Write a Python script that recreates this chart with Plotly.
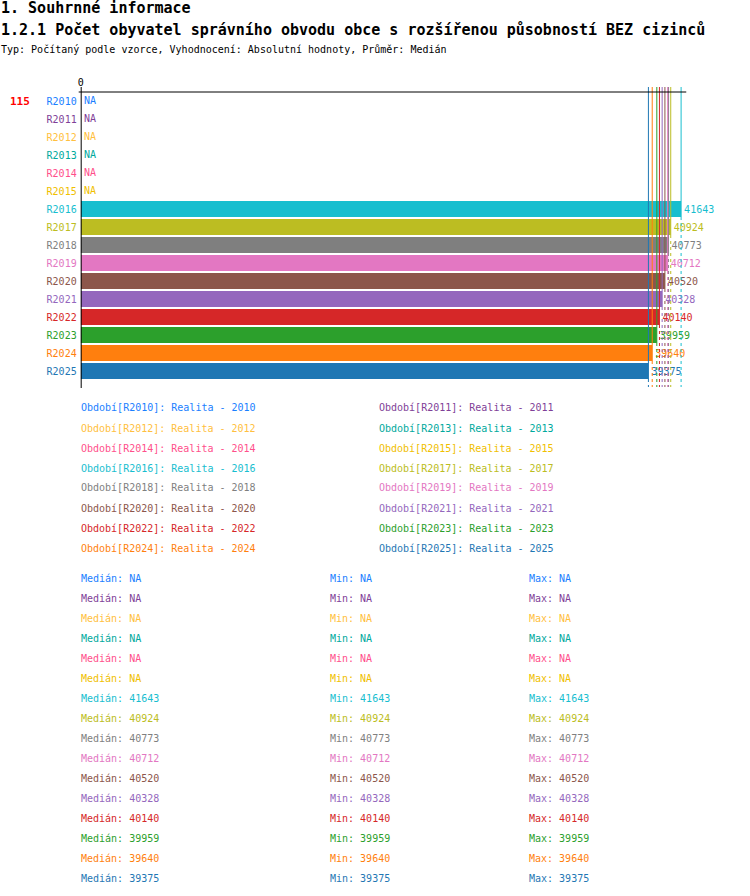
import plotly.graph_objects as go

W, H = 750, 896

periods = ["R2010", "R2011", "R2012", "R2013", "R2014", "R2015", "R2016", "R2017",
           "R2018", "R2019", "R2020", "R2021", "R2022", "R2023", "R2024", "R2025"]
values = [None, None, None, None, None, None, 41643, 40924,
          40773, 40712, 40520, 40328, 40140, 39959, 39640, 39375]
colors = ["#1a80ff", "#7f3f98", "#ffbf40", "#00a99d", "#ff4f8b", "#f0c000",
          "#17becf", "#bcbd22", "#7f7f7f", "#e377c2", "#8c564b", "#9467bd",
          "#d62728", "#2ca02c", "#ff7f0e", "#1f77b4"]
region_code = "115"
title1 = "1. Souhrnné informace"
title2 = "1.2.1 Počet obyvatel správního obvodu obce s rozšířenou působností BEZ cizinců"
subtitle = "Typ: Počítaný podle vzorce, Vyhodnocení: Absolutní hodnoty, Průměr: Medián"

MONO = "DejaVu Sans Mono"


def px(v):
    return v / W


def py(v):
    return 1 - v / H


# plot area in pixels
top, bottom = 92, 380
left, right = 78, 686
row_h = (bottom - top) / len(periods)

fig = go.Figure()

fig.add_trace(go.Bar(
    y=periods, x=values, orientation="h",
    marker=dict(color=colors, line=dict(width=0)),
    text=[("" if v is None else str(v)) for v in values],
    textposition="outside", cliponaxis=False,
    textfont=dict(family=MONO, size=10, color=colors),
    hoverinfo="skip",
))

shapes = []
# vertical value lines: solid down to own bar, dashed below
for i, v in enumerate(values):
    if v is None:
        continue
    split = top + row_h * (i + 1) - 1
    shapes.append(dict(type="line", xref="x", yref="paper", x0=v, x1=v,
                       y0=py(87), y1=py(split), layer="above",
                       line=dict(color=colors[i], width=1)))
    shapes.append(dict(type="line", xref="x", yref="paper", x0=v, x1=v,
                       y0=py(split), y1=py(387), layer="above",
                       line=dict(color=colors[i], width=1, dash="3px,3px")))
# axis lines
shapes.append(dict(type="line", xref="paper", yref="paper", x0=px(left - 2), x1=px(right),
                   y0=py(top), y1=py(top), line=dict(color="black", width=1)))
shapes.append(dict(type="line", xref="x", yref="paper", x0=0, x1=0,
                   y0=py(87), y1=py(388), line=dict(color="black", width=2)))

ann = []


def text(x, y, s, color="black", size=10, bold=False):
    ann.append(dict(xref="paper", yref="paper", x=px(x), y=py(y), text=("<b>%s</b>" % s) if bold else s,
                    showarrow=False, xanchor="left", yanchor="middle", borderpad=0, xshift=-3,
                    font=dict(family=MONO, size=size, color=color)))


text(0, 8, title1, size=15, bold=True)
text(0, 30, title2, size=15, bold=True)
text(0, 50, subtitle, size=10)
text(9, 101, region_code, color="red", size=11, bold=True)

# NA labels
for i, v in enumerate(values):
    if v is None:
        ann.append(dict(xref="x", yref="y", x=0, y=periods[i], text="NA", showarrow=False,
                        xanchor="left", yanchor="middle", xshift=2, borderpad=0,
                        font=dict(family=MONO, size=10, color=colors[i])))

# legend block
for i, p in enumerate(periods):
    col = i % 2
    row = i // 2
    text(80 + 300 * col, 408 + 20 * row, "Období[%s]: Realita - %s" % (p, p[1:]), color=colors[i])

# stats block
for i, v in enumerate(values):
    s = "NA" if v is None else str(v)
    y = 578 + 20 * i
    text(80, y, "Medián: " + s, color=colors[i])
    text(330, y, "Min: " + s, color=colors[i])
    text(530, y, "Max: " + s, color=colors[i])

fig.update_layout(
    width=W, height=H, margin=dict(l=0, r=0, t=0, b=0),
    paper_bgcolor="white", plot_bgcolor="white",
    showlegend=False, bargap=2 / 18,
    shapes=shapes, annotations=ann,
    xaxis=dict(domain=[px(left), px(right)], range=[0, 42000], side="top",
               tickvals=[0], ticktext=["0"], showgrid=False, zeroline=False,
               showline=False, ticks="", ticklabelstandoff=3,
               tickfont=dict(family=MONO, size=10, color="black")),
    yaxis=dict(domain=[py(bottom), py(top)], range=[len(periods) - 0.5, -0.5],
               tickmode="array", tickvals=periods,
               ticktext=["<span style='color:%s'>%s</span>" % (c, p) for p, c in zip(periods, colors)],
               showgrid=False, zeroline=False, showline=False, ticks="",
               ticklabelstandoff=3,
               tickfont=dict(family=MONO, size=10)),
)

fig.write_html("out.html", config={"displayModeBar": False},
               post_script="document.body.style.margin='0';")
